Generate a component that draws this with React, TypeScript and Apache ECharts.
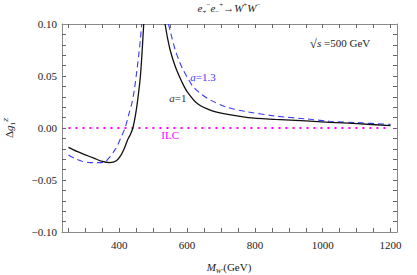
import React, { useEffect, useRef } from "react";
import * as echarts from "echarts";

const xLabelTicks = [400, 600, 800, 1000, 1200];
const xAllTicks = [250, 300, 350, 400, 450, 500, 550, 600, 650, 700, 750, 800, 850, 900, 950, 1000, 1050, 1100, 1150, 1200];
const yAllTicks = [-0.09, -0.08, -0.07, -0.06, -0.05, -0.04, -0.03, -0.02, -0.01, 0, 0.01, 0.02, 0.03, 0.04, 0.05, 0.06, 0.07, 0.08, 0.09];

const a1LeftX = [250, 275, 300, 325, 350, 372, 390, 405, 415, 425, 432, 440, 448, 455, 462, 467, 472];
const a1LeftY = [-0.0186, -0.0225, -0.0258, -0.029, -0.0322, -0.0333, -0.0318, -0.026, -0.0195, -0.011, -0.0067, 0, 0.013, 0.029, 0.049, 0.072, 0.1];
const a1RightX = [535, 542, 550, 560, 570, 585, 600, 630, 670, 720, 780, 860, 950, 1020, 1100, 1200];
const a1RightY = [0.1, 0.087, 0.075, 0.064, 0.055, 0.044, 0.035, 0.0235, 0.017, 0.013, 0.01, 0.0083, 0.0068, 0.0055, 0.0042, 0.0022];

const a13LeftX = [250, 270, 290, 315, 340, 358, 373, 385, 393, 405, 417, 427, 437, 445, 452, 458, 462, 466];
const a13LeftY = [-0.026, -0.0295, -0.032, -0.0333, -0.0333, -0.0324, -0.0276, -0.022, -0.018, -0.009, 0, 0.012, 0.0237, 0.038, 0.0558, 0.072, 0.0846, 0.1];
const a13RightX = [545, 555, 565, 576, 588, 600, 617, 640, 668, 717, 776, 860, 950, 1020, 1100, 1200];
const a13RightY = [0.1, 0.087, 0.075, 0.065, 0.056, 0.049, 0.04, 0.033, 0.027, 0.02, 0.0157, 0.0115, 0.0088, 0.0065, 0.0052, 0.0035];

const ilcX = [250, 1200];
const ilcY = [0, 0];

const zip = (xs: number[], ys: number[]) => xs.map((x, i) => [x, ys[i]]);
const branches = (lx: number[], ly: number[], rx: number[], ry: number[]) => [
  ...zip(lx, ly),
  [null, null],
  ...zip(rx, ry),
];

const SERIF = "'Liberation Serif', 'DejaVu Serif', serif";
const FRAME = "#8a8a8a";
const TICK = "#666666";

export default function App() {
  const ref = useRef<HTMLDivElement>(null);
  useEffect(() => {
    document.body.style.margin = "0";
    const chart = echarts.init(ref.current!, null, { renderer: "svg" });
    chart.setOption({
      animation: false,
      grid: { left: 62, top: 24, width: 335, height: 208, show: false },
      xAxis: [
        {
          type: "value",
          min: 231,
          max: 1219,
          axisLine: { show: true, onZero: false, lineStyle: { color: FRAME, width: 1 } },
          splitLine: { show: false },
          axisTick: { show: true, inside: true, length: 4, customValues: xAllTicks, lineStyle: { color: TICK, width: 1 } },
          axisLabel: {
            customValues: xLabelTicks,
            fontFamily: SERIF,
            fontSize: 11,
            color: "#222",
            margin: 7,
            formatter: (v: number) => String(v),
          },
        },
        {
          type: "value",
          position: "top",
          min: 231,
          max: 1219,
          axisLine: { show: true, onZero: false, lineStyle: { color: FRAME, width: 1 } },
          splitLine: { show: false },
          axisTick: { show: true, inside: true, length: 4, customValues: xAllTicks, lineStyle: { color: TICK, width: 1 } },
          axisLabel: { show: false },
        },
      ],
      yAxis: [
        {
          type: "value",
          min: -0.1,
          max: 0.1,
          interval: 0.05,
          axisLine: { show: true, onZero: false, lineStyle: { color: FRAME, width: 1 } },
          splitLine: { show: false },
          axisTick: { show: true, inside: true, length: 4, customValues: yAllTicks, lineStyle: { color: TICK, width: 1 } },
          axisLabel: {
            fontFamily: SERIF,
            fontSize: 11,
            color: "#222",
            margin: 5,
            formatter: (v: number) => (v < 0 ? "\u2212" + Math.abs(v).toFixed(2) : v.toFixed(2)),
          },
        },
        {
          type: "value",
          position: "right",
          min: -0.1,
          max: 0.1,
          interval: 0.05,
          axisLine: { show: true, onZero: false, lineStyle: { color: FRAME, width: 1 } },
          splitLine: { show: false },
          axisTick: { show: true, inside: true, length: 4, customValues: yAllTicks, lineStyle: { color: TICK, width: 1 } },
          axisLabel: { show: false },
        },
      ],
      series: [
        {
          name: "ILC",
          type: "line",
          data: zip(ilcX, ilcY),
          showSymbol: false,
          lineStyle: { color: "#ff00ff", width: 2, type: [2, 5] },
        },
        {
          name: "a=1.3",
          type: "line",
          data: branches(a13LeftX, a13LeftY, a13RightX, a13RightY),
          showSymbol: false,
          smooth: 0.3,
          connectNulls: false,
          lineStyle: { color: "#3a3aff", width: 1.1, type: [6, 4] },
        },
        {
          name: "a=1",
          type: "line",
          data: branches(a1LeftX, a1LeftY, a1RightX, a1RightY),
          showSymbol: false,
          smooth: 0.3,
          connectNulls: false,
          lineStyle: { color: "#111", width: 1.3 },
        },
      ],
    });

    const px = (x: number, y: number) => chart.convertToPixel({ gridIndex: 0 }, [x, y]) as number[];
    const pA1 = px(573, 0.029);
    const pA13 = px(647, 0.049);
    const pILC = px(550, -0.007);
    const pS = px(1051, 0.0817);

    chart.setOption({
      graphic: [
        {
          type: "text",
          x: 229,
          y: 8,
          style: {
            text: "{i|e}{sb|+}{sp|\u2212}{i|e}{sb|\u2212}{sp|+}{n|\u2192}{i|W}{sp|+}{i|W}{sp|\u2212}",
            align: "center",
            verticalAlign: "middle",
            fill: "#222",
            rich: {
              i: { fontFamily: SERIF, fontStyle: "italic", fontSize: 11, lineHeight: 14, verticalAlign: "middle" },
              n: { fontFamily: SERIF, fontSize: 11, lineHeight: 14 },
              sb: { fontFamily: SERIF, fontSize: 7, lineHeight: 14, verticalAlign: "bottom" },
              sp: { fontFamily: SERIF, fontSize: 7, lineHeight: 14, verticalAlign: "top" },
            },
          },
        },
        {
          type: "text",
          x: 229,
          y: 267,
          style: {
            text: "{i|M}{sb|W\u2032}{n|(GeV)}",
            align: "center",
            verticalAlign: "middle",
            fill: "#222",
            rich: {
              i: { fontFamily: SERIF, fontStyle: "italic", fontSize: 11, lineHeight: 14 },
              n: { fontFamily: SERIF, fontSize: 11, lineHeight: 14 },
              sb: { fontFamily: SERIF, fontStyle: "italic", fontSize: 7, lineHeight: 14, verticalAlign: "bottom" },
            },
          },
        },
        {
          type: "text",
          x: 9,
          y: 128,
          rotation: Math.PI / 2,
          style: {
            text: "{n|\u0394}{i|g}{sb|1}{sp|Z}",
            align: "center",
            verticalAlign: "middle",
            fill: "#222",
            rich: {
              n: { fontFamily: SERIF, fontSize: 11, lineHeight: 14 },
              i: { fontFamily: SERIF, fontStyle: "italic", fontSize: 11, lineHeight: 14 },
              sb: { fontFamily: SERIF, fontSize: 7, lineHeight: 14, verticalAlign: "bottom" },
              sp: { fontFamily: SERIF, fontStyle: "italic", fontSize: 7, lineHeight: 14, verticalAlign: "top" },
            },
          },
        },
        {
          type: "text",
          x: pA1[0],
          y: pA1[1],
          style: {
            text: "{i|a}{n|=1}",
            align: "center",
            verticalAlign: "middle",
            fill: "#333",
            rich: {
              i: { fontFamily: SERIF, fontStyle: "italic", fontSize: 11 },
              n: { fontFamily: SERIF, fontSize: 11 },
            },
          },
        },
        {
          type: "text",
          x: pA13[0],
          y: pA13[1],
          style: {
            text: "{i|a}{n|=1.3}",
            align: "center",
            verticalAlign: "middle",
            fill: "#3a3aff",
            rich: {
              i: { fontFamily: SERIF, fontStyle: "italic", fontSize: 11, fill: "#3a3aff" },
              n: { fontFamily: SERIF, fontSize: 11, fill: "#3a3aff" },
            },
          },
        },
        {
          type: "text",
          x: pILC[0],
          y: pILC[1],
          style: {
            text: "ILC",
            align: "center",
            verticalAlign: "middle",
            fill: "#ff00ff",
            fontFamily: SERIF,
            fontSize: 11,
          },
        },
        {
          type: "text",
          x: pS[0],
          y: pS[1],
          style: {
            text: "{r|\u221A}{i|s}{n| =500 GeV}",
            align: "center",
            verticalAlign: "middle",
            fill: "#222",
            rich: {
              r: { fontFamily: SERIF, fontSize: 13 },
              i: { fontFamily: SERIF, fontStyle: "italic", fontSize: 11 },
              n: { fontFamily: SERIF, fontSize: 11 },
            },
          },
        },
      ],
    });
    return () => chart.dispose();
  }, []);
  return <div ref={ref} style={{ width: 417, height: 275 }} />;
}
